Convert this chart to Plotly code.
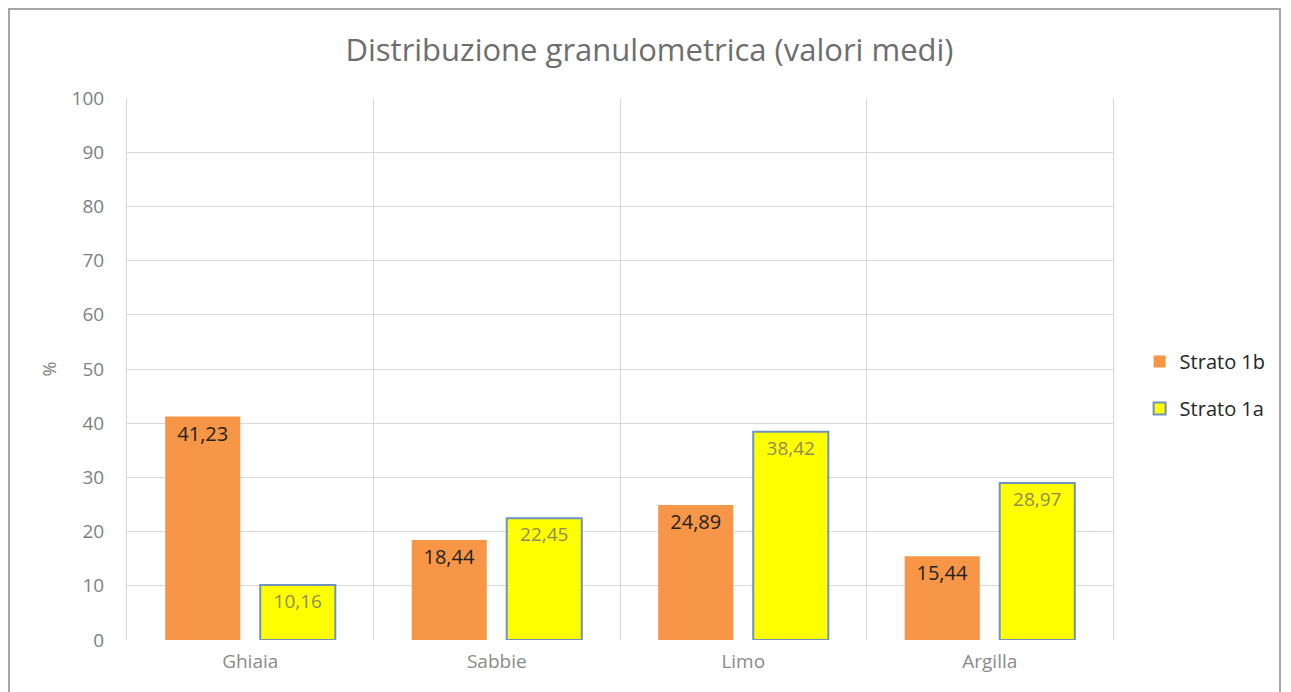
import plotly.graph_objects as go

categories = ["Ghiaia", "Sabbie", "Limo", "Argilla"]
strato_1b = [41.23, 18.44, 24.89, 15.44]
strato_1a = [10.16, 22.45, 38.42, 28.97]
y_ticks = list(range(0, 101, 10))

FONT = "Open Sans"


def fmt(v):
    return f"{v:.2f}".replace(".", ",")


fig = go.Figure()
fig.add_trace(go.Bar(
    x=categories, y=strato_1b, name="Strato 1b", legendgroup="b",
    marker=dict(color="#F79646", line=dict(width=0)),
    text=[fmt(v) for v in strato_1b], textposition="inside", insidetextanchor="end",
    textfont=dict(color="#222222", size=20, family=FONT),
))
fig.add_trace(go.Bar(
    x=categories, y=strato_1a, name="Strato 1a", legendgroup="a",
    marker=dict(color="#FFFF00", line=dict(color="#6F93BE", width=2)),
    text=[fmt(v) for v in strato_1a], textposition="inside", insidetextanchor="end",
    textfont=dict(color="#8E8E55", size=19, family=FONT),
))

# page body has an 8px margin, so the figure is a little smaller than the window
fig.update_layout(
    width=1283, height=684,
    margin=dict(l=119, r=178, t=90, b=52),
    paper_bgcolor="white", plot_bgcolor="white",
    font=dict(family=FONT, color="#595959"),
    title=dict(text="Distribuzione granulometrica (valori medi)", x=0.5, xanchor="center",
               y=0.9386, yanchor="middle", font=dict(size=31, color="#6E6E6E", family=FONT)),
    barmode="group", bargap=0.229, bargroupgap=0.21,
    showlegend=True,
    legend=dict(x=1.027, y=0.55, xanchor="left", yanchor="top",
                font=dict(size=20, color="#262626", family=FONT),
                tracegroupgap=18, itemwidth=30),
)
fig.update_xaxes(
    tickson="boundaries", showgrid=True, gridcolor="#D9D9D9", gridwidth=1,
    ticks="", tickfont=dict(size=19, color="#8A8A8A"), ticklabelstandoff=8,
    showline=False, zeroline=False,
)
fig.update_yaxes(
    range=[0, 100], tickvals=y_ticks, showgrid=True, gridcolor="#D9D9D9", gridwidth=1,
    tickfont=dict(size=19, color="#7F7F7F"), ticklabelstandoff=18, zeroline=False,
    title=dict(text="%", font=dict(size=18, color="#7F7F7F"), standoff=10),
    showline=True, linecolor="#D9D9D9", mirror=True,
)
# outer chart border
fig.add_shape(type="rect", xref="paper", yref="paper",
              x0=-0.1197, x1=1.1694, y0=-0.1, y1=1.1642,
              line=dict(color="#A6A6A6", width=2), layer="below")

fig.write_html("out.html")
